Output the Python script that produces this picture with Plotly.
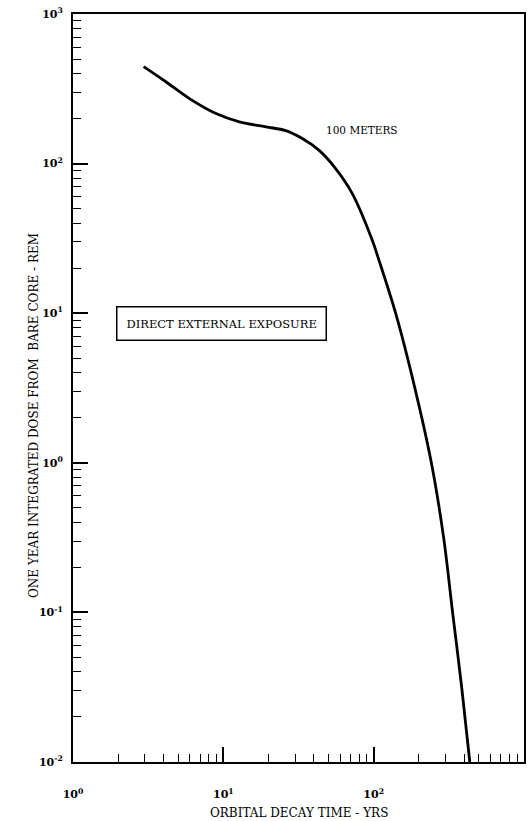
import plotly.graph_objects as go

# Data (orbital decay time in years vs dose in rem)
decay_time_yrs = [2.95, 4.17, 5.95, 8.94, 12.8, 19.2, 26.0, 33.5, 43.2, 55.7, 71.8,
                  97.5, 108, 140, 188, 242, 292, 335, 385, 436]
dose_rem = [445, 351, 272, 216, 190, 176, 166, 147, 123, 93, 63.5,
            31.1, 22.9, 10, 3.16, 1, 0.316, 0.1, 0.0316, 0.01]

x_tickvals = [1, 10, 100, 1000]
x_ticktext = ["<b>10<sup>0</sup></b>", "<b>10<sup>1</sup></b>",
              "<b>10<sup>2</sup></b>", "<b>10<sup>3</sup></b>"]
y_tickvals = [0.01, 0.1, 1, 10, 100, 1000]
y_ticktext = ["<b>10<sup>-2</sup></b>", "<b>10<sup>-1</sup></b>", "<b>10<sup>0</sup></b>",
              "<b>10<sup>1</sup></b>", "<b>10<sup>2</sup></b>", "<b>10<sup>3</sup></b>"]

FONT = "DejaVu Serif"

fig = go.Figure()
fig.add_trace(go.Scatter(
    x=decay_time_yrs, y=dose_rem, mode="lines",
    line=dict(color="black", width=2.8, shape="spline", smoothing=1.0),
    showlegend=False, hoverinfo="skip",
))

axis_common = dict(
    type="log", showgrid=False, zeroline=False,
    showline=True, linecolor="black", linewidth=2, mirror=True,
    ticks="inside", ticklen=15, tickwidth=1.5, tickcolor="black",
    tickfont=dict(family=FONT, size=11, color="black"),
    minor=dict(ticks="inside", ticklen=8, tickwidth=1.2, tickcolor="black",
               dtick="D1", showgrid=False),
)

fig.update_xaxes(**axis_common, range=[0, 3], tickmode="array",
                 tickvals=x_tickvals, ticktext=x_ticktext, ticklabelstandoff=21)
fig.update_yaxes(**axis_common, range=[-2, 3], tickmode="array",
                 tickvals=y_tickvals, ticktext=y_ticktext, ticklabelstandoff=6)

fig.add_annotation(
    x=1.921, y=2.222, xref="x", yref="y", text="100 METERS", showarrow=False,
    font=dict(family=FONT, size=10.5, color="black"),
)
fig.add_annotation(
    x=0.987, y=0.932, xref="x", yref="y", text="DIRECT EXTERNAL EXPOSURE", showarrow=False,
    font=dict(family=FONT, size=11.5, color="black"),
    bordercolor="black", borderwidth=1.5, borderpad=9, bgcolor="white",
)
fig.add_annotation(
    x=0.5, y=-0.068, xref="paper", yref="paper", text="ORBITAL DECAY TIME - YRS",
    showarrow=False, font=dict(family=FONT, size=12, color="black"),
    xanchor="center", yanchor="middle",
)
fig.add_annotation(
    x=-0.088, y=0.463, xref="paper", yref="paper",
    text="ONE YEAR INTEGRATED DOSE FROM  BARE CORE - REM",
    textangle=-90, showarrow=False, font=dict(family=FONT, size=12, color="black"),
    xanchor="center", yanchor="middle",
)

fig.update_layout(
    width=532, height=821,
    margin=dict(l=73, r=6, t=10, b=59),
    paper_bgcolor="white", plot_bgcolor="white",
)

fig.write_html(
    "out.html",
    config={"displayModeBar": False},
    post_script="document.body.style.margin='0';document.body.style.overflow='hidden';",
)
